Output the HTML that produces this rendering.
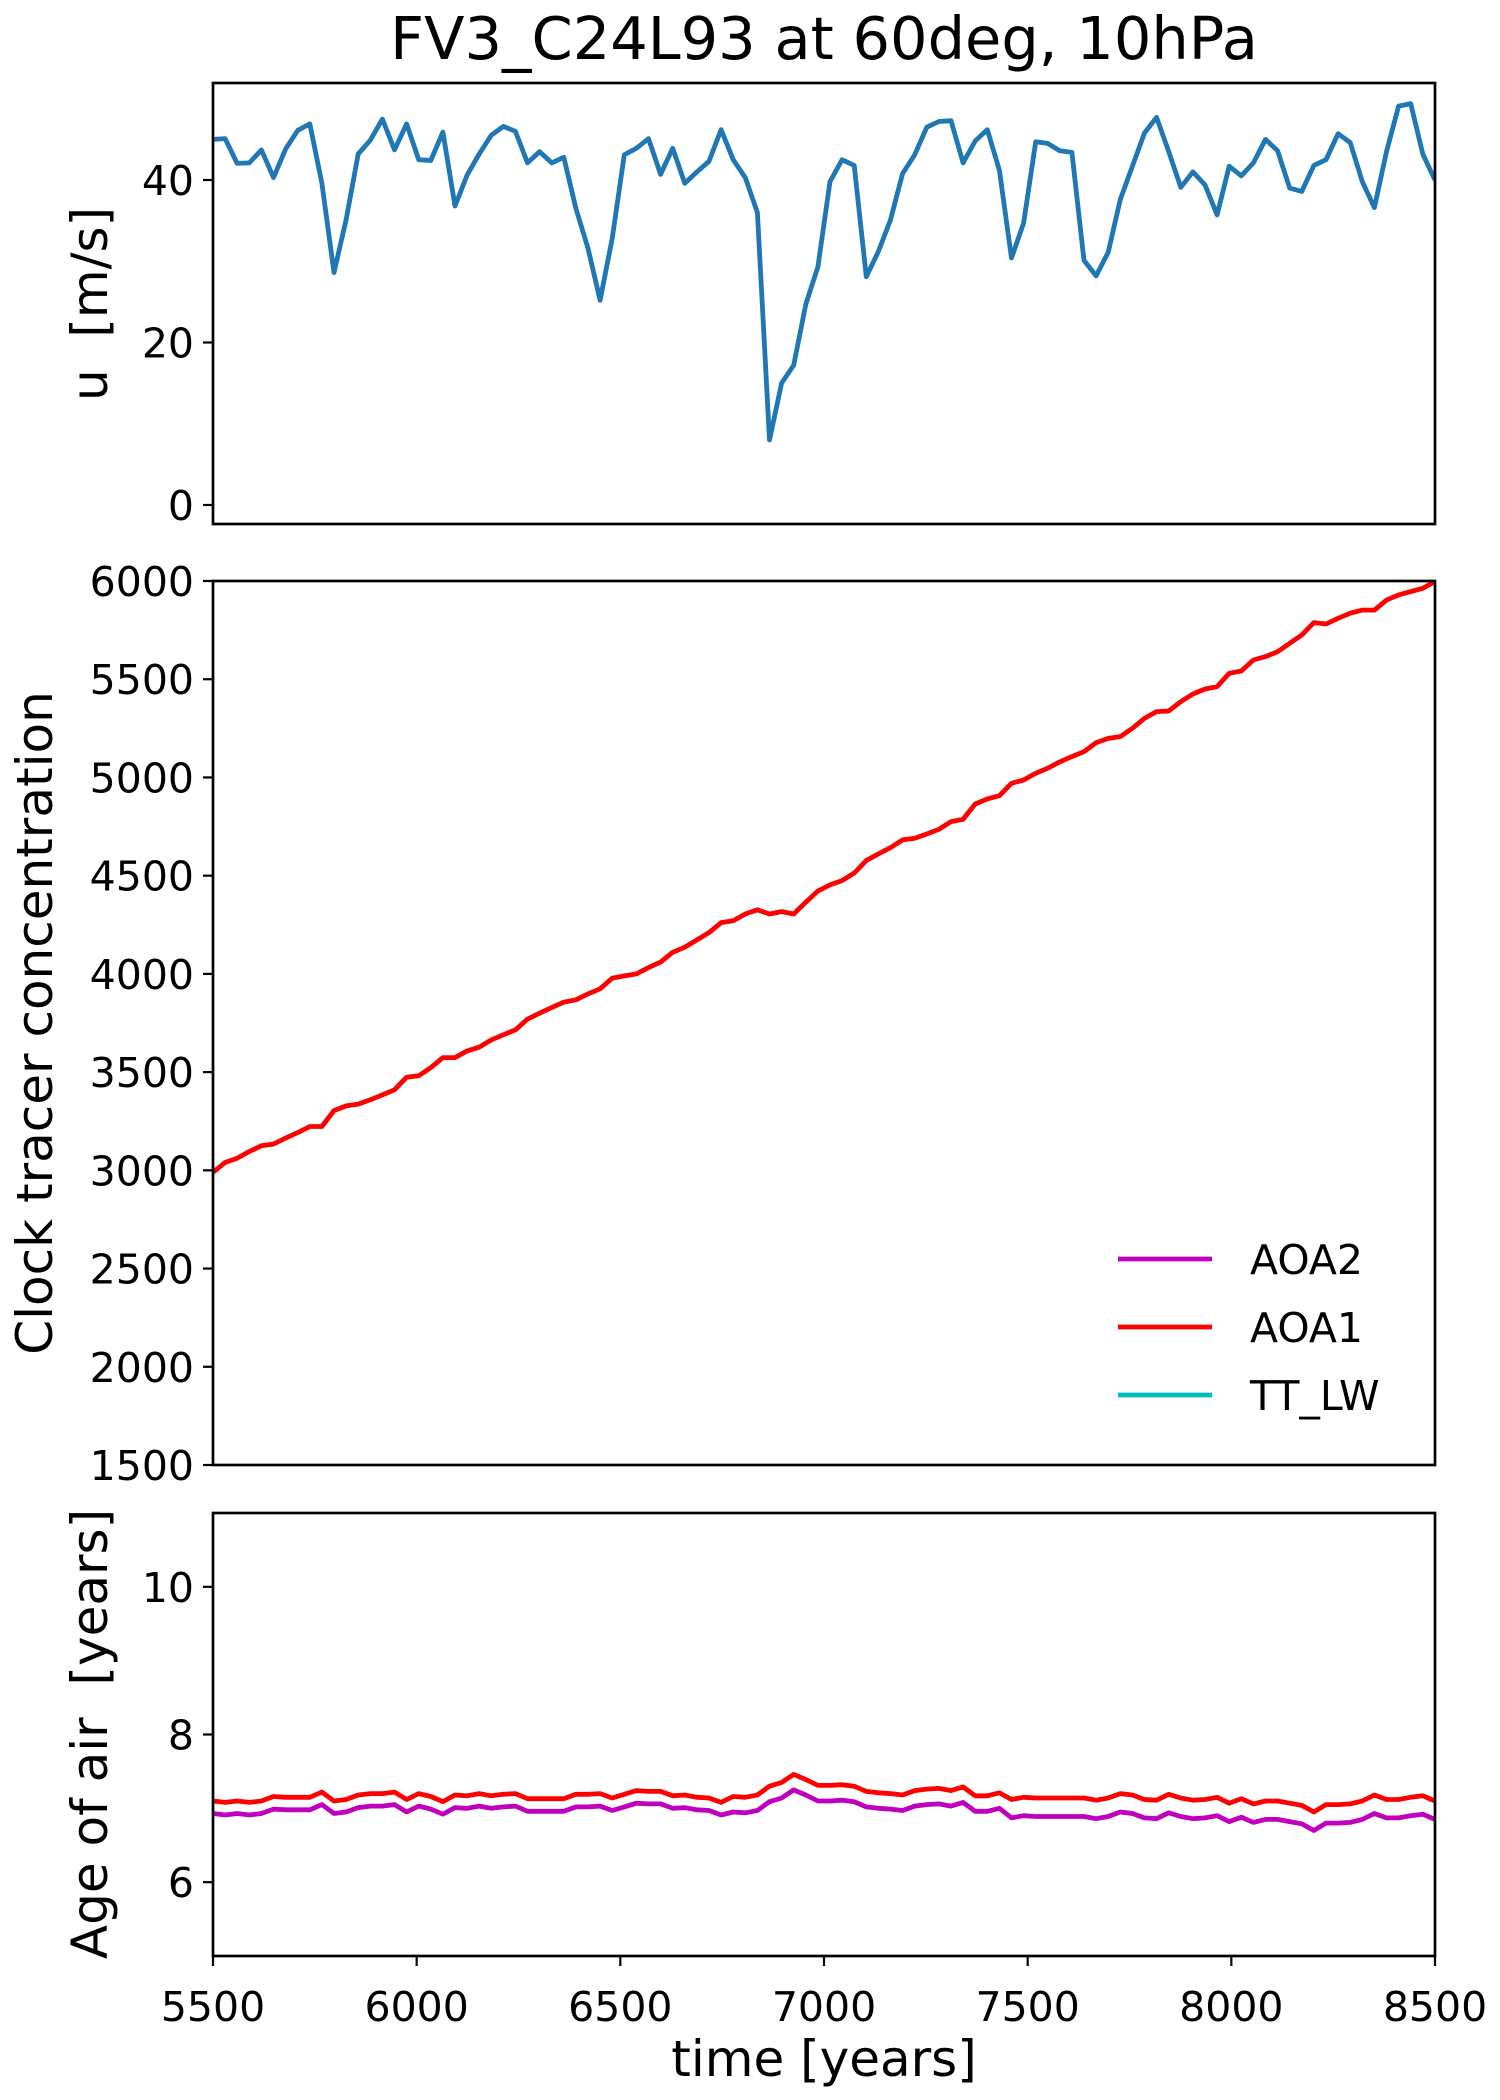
<!DOCTYPE html>
<html><head><meta charset="utf-8"><style>
html,body{margin:0;padding:0;background:#fff}
svg{display:block;font-family:"DejaVu Sans","Liberation Sans",sans-serif}
</style></head><body>
<svg id="fig" width="1500" height="2100" viewBox="0 0 1500 2100" xmlns="http://www.w3.org/2000/svg">
<rect width="1500" height="2100" fill="#fff"/>
<text x="824" y="59" font-size="59" text-anchor="middle">FV3_C24L93 at 60deg, 10hPa</text>
<g id="g"></g>
</svg>
<script>
const uTicks=[0,20,40];
const clockTicks=[1500,2000,2500,3000,3500,4000,4500,5000,5500,6000];
const ageTicks=[6,8,10];
const xTicks=[5500,6000,6500,7000,7500,8000,8500];
const tStart=5500, tStep=29.7;
const uWind=[45.0,45.1,42.05,42.1,43.7,40.3,43.8,46.1,46.9,39.6,
28.6,35.1,43.2,44.9,47.5,43.7,46.9,42.5,42.4,45.9,
36.8,40.6,43.2,45.5,46.6,46.0,42.1,43.5,42.1,42.8,
36.5,31.6,25.2,32.8,43.1,
43.9,45.1,40.7,43.9,39.6,41.0,42.3,46.2,42.5,40.3,36.0,8.0,15.0,17.2,24.7,29.3,39.8,42.5,41.8,28.1,31.2,35.1,40.8,43.1,46.5,47.2,47.3,42.1,44.8,46.2,41.2,30.4,34.7,44.7,
44.5,43.6,43.4,30.1,28.2,31.1,37.6,41.7,45.8,47.7,43.5,39.1,41.0,39.4,35.7,41.7,40.5,42.1,45.0,43.6,39.0,38.6,41.8,42.5,45.7,44.6,39.8,36.6,43.5,49.1,49.4,43.2,40.0];
const clockAOA1=[2990,3040,3062,3096,3125,3134,3164,3192,3223,3223,
3304,3328,3337,3359,3384,3410,3474,3481,3523,3574,
3574,3608,3627,3664,3690,3715,3770,3800,3829,3856,
3868,3898,3924,3978,3990,4000,4032,4060,4110,4136,
4173,4210,4261,4270,4305,4326,4305,4317,4305,4365,
4422,4453,
4475,4513,4577,4611,4643,4682,4690,4712,4736,4775,
4787,4865,4891,4907,4970,4987,5021,5047,5079,5106,
5131,5177,5199,5208,5250,5301,5335,5338,5386,5425,
5450,5462,5530,5542,5598,5615,5640,5683,5725,5788,
5781,5810,5836,5852,5852,5903,5929,5946,5963,5997];
const ageAOA1=[7.10,7.08,7.10,7.08,7.10,7.16,7.15,7.15,7.15,7.22,
7.10,7.12,7.18,7.20,7.20,7.22,7.12,7.20,7.16,7.09,
7.18,7.17,7.20,7.17,7.19,7.20,7.13,7.13,7.13,7.13,
7.19,7.19,7.20,7.14,7.19,7.24,7.23,7.23,7.17,7.18,
7.15,7.14,7.08,7.16,7.15,7.18,7.30,7.35,7.46,7.39,
7.31,7.31,7.32,7.30,7.23,7.21,7.20,7.18,7.24,7.26,
7.27,7.24,7.29,7.17,7.17,7.21,7.12,7.15,7.14,7.14,
7.14,7.14,7.14,7.11,7.14,7.20,7.18,7.12,7.11,7.19,
7.14,7.11,7.12,7.15,7.07,7.13,7.06,7.10,7.10,7.07,
7.04,6.95,7.05,7.05,7.06,7.10,7.18,7.12,7.12,7.15,7.17,7.10];
const ageAOA2=[6.93,6.91,6.93,6.91,6.93,6.99,6.98,6.98,6.98,7.05,
6.93,6.95,7.01,7.03,7.03,7.05,6.95,7.03,6.99,6.92,
7.01,7.00,7.03,7.00,7.02,7.03,6.96,6.96,6.96,6.96,
7.02,7.02,7.03,6.97,7.02,7.07,7.06,7.06,7.00,7.01,
6.98,6.97,6.91,6.95,6.94,6.97,7.09,7.14,7.25,7.18,
7.10,7.10,7.11,7.09,7.02,7.00,6.99,6.97,7.03,7.05,
7.06,7.03,7.08,6.96,6.96,7.00,6.87,6.90,6.89,6.89,
6.89,6.89,6.89,6.86,6.89,6.95,6.93,6.87,6.86,6.94,
6.89,6.86,6.87,6.90,6.82,6.88,6.81,6.85,6.85,6.82,
6.79,6.70,6.80,6.80,6.81,6.85,6.93,6.87,6.87,6.90,6.92,6.85];
const legendLabels=["AOA2","AOA1","TT_LW"];

const NS="http://www.w3.org/2000/svg";
const g=document.getElementById('g');
const L=213,R=1435;
function X(t){return L+(t-5500)/(8500-5500)*(R-L);}
function mk(tag,attrs){const e=document.createElementNS(NS,tag);for(const k in attrs)e.setAttribute(k,attrs[k]);g.appendChild(e);return e;}
const panels=[
 {name:'wind',top:83,bot:524,y0:-2.34,y1:51.94,ticks:uTicks},
 {name:'clock',top:581,bot:1465,y0:1500,y1:6000,ticks:clockTicks},
 {name:'age',top:1513,bot:1956,y0:5,y1:11,ticks:ageTicks}
];
function Yf(p){return v=>p.bot-(v-p.y0)/(p.y1-p.y0)*(p.bot-p.top);}
function line(p,vals,color,name){
  const Y=Yf(p);
  const pts=vals.map((v,i)=>X(tStart+i*tStep).toFixed(1)+','+Y(v).toFixed(1)).join(' ');
  const e=mk('polyline',{points:pts,fill:'none',stroke:color,'stroke-width':4.8,'stroke-linejoin':'round','clip-path':'url(#clip-'+p.name+')'});
  
  
}
const defs=mk('defs',{});
panels.forEach(p=>{
  const cp=document.createElementNS(NS,'clipPath');cp.setAttribute('id','clip-'+p.name);
  const r=document.createElementNS(NS,'rect');r.setAttribute('x',L);r.setAttribute('y',p.top);r.setAttribute('width',R-L);r.setAttribute('height',p.bot-p.top);
  cp.appendChild(r);defs.appendChild(cp);
  const Y=Yf(p);
  p.ticks.forEach(v=>{
    const y=Y(v);
    const tk=mk('line',{x1:L-10,x2:L,y1:y,y2:y,stroke:'#000','stroke-width':2.2});
    
    
    const tx=mk('text',{x:L-19,y:y+15,'font-size':41,'text-anchor':'end'});
    tx.textContent=v;
    
    
  });
});
line(panels[0],uWind,'#1f77b4','u-wind-line');
line(panels[1],clockAOA1,'#ff0000','clock-aoa1-line');
line(panels[2],ageAOA2,'#bf00bf','age-aoa2-line');
line(panels[2],ageAOA1,'#ff0000','age-aoa1-line');
panels.forEach(p=>{
  const fr=mk('rect',{x:L,y:p.top,width:R-L,height:p.bot-p.top,fill:'none',stroke:'#000','stroke-width':2.7});
  
  
});
xTicks.forEach(t=>{
  const x=X(t);
  const tk=mk('line',{x1:x,x2:x,y1:1956,y2:1966,stroke:'#000','stroke-width':2.2});
  
  
  const tx=mk('text',{x:x,y:2021,'font-size':41,'text-anchor':'middle'});
  tx.textContent=t;
  
  
});
const labels=[['u  [m/s]',107,304,'u-axis-title'],['Clock tracer concentration',52,1023,'clock-axis-title'],['Age of air  [years]',107,1734,'age-axis-title']];
labels.forEach(a=>{
  const tx=mk('text',{x:a[1],y:a[2],'font-size':50,'text-anchor':'middle',transform:'rotate(-90 '+a[1]+' '+a[2]+')'});
  tx.style.whiteSpace='pre';
  tx.textContent=a[0];
  
  
});
const xl=mk('text',{x:824,y:2076,'font-size':50,'text-anchor':'middle'});
xl.textContent='time [years]';


const legendColors=['#bf00bf','#ff0000','#00bfbf'];
const legendY=[1259,1327,1395];
legendLabels.forEach((lab,i)=>{
  const ln=mk('line',{x1:1118,x2:1212,y1:legendY[i],y2:legendY[i],stroke:legendColors[i],'stroke-width':4.8});
  
  
  const tx=mk('text',{x:1250,y:legendY[i]+15,'font-size':41});
  tx.textContent=lab;
  
  
});
</script>
</body></html>
